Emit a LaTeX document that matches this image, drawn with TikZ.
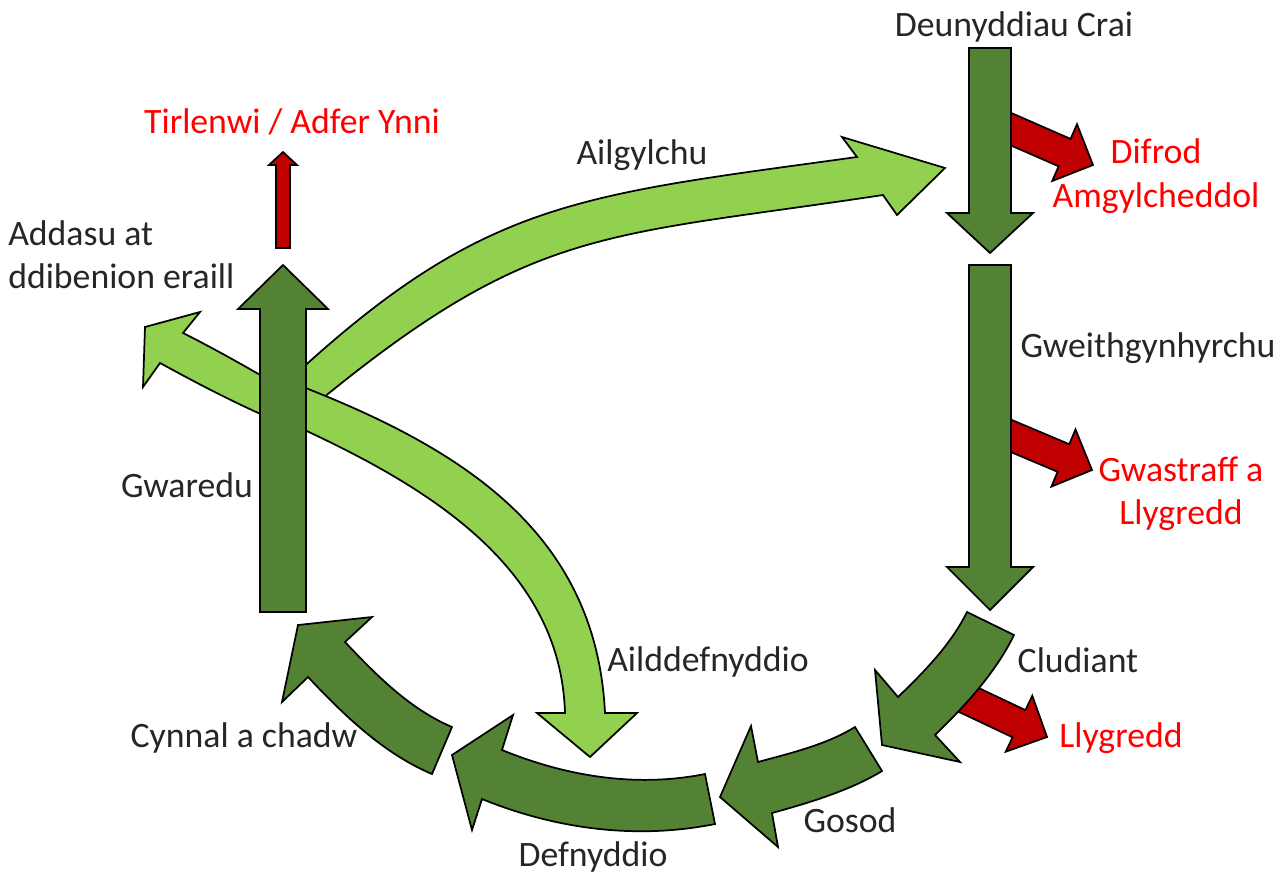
\documentclass[tikz,border=0pt]{standalone}
\usepackage{fontspec}
\setmainfont{Carlito}
\usetikzlibrary{calc}
\definecolor{cDark}{HTML}{548235}
\definecolor{cLight}{HTML}{92D050}
\definecolor{cRed}{HTML}{C00000}
\definecolor{cRedText}{HTML}{FF0000}
\definecolor{cText}{HTML}{262626}
\newcommand{\lblfont}{\fontsize{26.8}{32.5}\selectfont}
\tikzset{
  darkarrow/.style={fill=cDark, draw=black, line width=1.3pt, line join=miter},
  lightarrow/.style={fill=cLight, draw=black, line width=1.3pt, line join=miter},
  redarrow/.style={fill=cRed, draw=black, line width=1.3pt, line join=miter},
  lbl/.style={text=cText, font=\lblfont, inner sep=0pt},
  redlbl/.style={lbl, text=cRedText}
}
\begin{document}
\begin{tikzpicture}[x=0.75pt,y=-0.75pt]
\useasboundingbox (0,0) rectangle (1288,876);
% light green curved arrows
\draw[lightarrow] (285,384) .. controls (482,200) and (575,196) .. (857,157) -- (842,137) -- (945,168) -- (897,215) -- (883,195) .. controls (596,238.5) and (530,224.4) .. (300,417) -- cycle;
\draw[lightarrow] (285,380) .. controls (457,445) and (596,529) .. (605,713) -- (637,713) -- (590,757) -- (537,713) -- (565,713) .. controls (560.5,563) and (421.7,482.8) .. (285,421) -- cycle;
\draw[lightarrow] (283,388) .. controls (250,369) and (215,349) .. (183,333) -- (200,312) -- (145,327) -- (143,387) -- (160,363) .. controls (195,382) and (230,401) .. (283,424) -- cycle;
% left vertical arrow
\draw[darkarrow] (260,612) -- (260,309) -- (238,309) -- (283,265) -- (328,309) -- (306,309) -- (306,612) -- cycle;
% small red up arrow
\draw[redarrow] (276,248) -- (276,165) -- (269,165) -- (283,152) -- (297,165) -- (290,165) -- (290,248) -- cycle;
% red side arrows
\draw[redarrow] (996,106.3) -- (1070.6,138.9) -- (1077,124.2) -- (1093,165) -- (1052.2,181) -- (1058.6,166.3) -- (984,133.7) -- cycle;
\draw[redarrow] (995.8,413.2) -- (1069.3,444.2) -- (1075.5,429.4) -- (1092,470) -- (1051.4,486.6) -- (1057.6,471.8) -- (984.2,440.8) -- cycle;
\draw[redarrow] (954,676.3) -- (1025.4,710.1) -- (1032.3,695.7) -- (1047,737) -- (1005.7,751.7) -- (1012.6,737.3) -- (941.2,703.5) -- cycle;
% right vertical arrows
\draw[darkarrow] (969,48) -- (1011,48) -- (1011,213) -- (1033,213) -- (990,253) -- (947,213) -- (969,213) -- cycle;
\draw[darkarrow] (969,265) -- (1011,265) -- (1011,567) -- (1033,567) -- (990,610) -- (947,567) -- (969,567) -- cycle;
% dark curved arrows
\draw[darkarrow] (967,612) .. controls (951,644.4) and (924,672) .. (898,697) -- (875,670) -- (882,745) -- (960,762) -- (935,735) .. controls (965,706) and (995.5,672.8) .. (1014,635) -- cycle;
\draw[darkarrow] (855,727) .. controls (826,744.8) and (790.8,753) .. (758,762) -- (751,726) -- (720,797) -- (778,847) -- (772,813) .. controls (807.7,803.2) and (850.4,790.4) .. (882,771) -- cycle;
\draw[darkarrow] (705,774) .. controls (636.4,787.7) and (566.8,776.5) .. (502,750) -- (513,715) -- (452,755) -- (472,830) -- (482,799) .. controls (556,829.2) and (636.6,839.7) .. (715,824) -- cycle;
\draw[darkarrow] (452,727) .. controls (409.7,709) and (376.6,675.4) .. (345,642) -- (372,617) -- (298,625) -- (282,702) -- (308,677) .. controls (344.4,715.5) and (383.2,753.3) .. (432,774) -- cycle;
% labels
\node[lbl] (raw) at (1014,27) {Deunyddiau Crai};
\node[redlbl, align=center] (env) at (1156,176) {Difrod\\Amgylcheddol};
\node[lbl] (manu) at (1148,348) {Gweithgynhyrchu};
\node[redlbl, align=center] (waste) at (1181,494) {Gwastraff a\\Llygredd};
\node[lbl] (trans) at (1078,660) {Cludiant};
\node[redlbl] (poll) at (1121,738) {Llygredd};
\node[lbl] (inst) at (850,820) {Gosod};
\node[lbl] (use) at (593,857) {Defnyddio};
\node[lbl] (maint) at (244,738) {Cynnal a chadw};
\node[lbl] (reuse) at (708,662) {Ailddefnyddio};
\node[lbl] (disp) at (187,485) {Gwaredu};
\node[lbl, align=left, anchor=west] (repur) at (8,255) {Addasu at\\ddibenion eraill};
\node[redlbl] (land) at (292,122) {Tirlenwi / Adfer Ynni};
\node[lbl] (recyc) at (642,155) {Ailgylchu};
\end{tikzpicture}
\end{document}
